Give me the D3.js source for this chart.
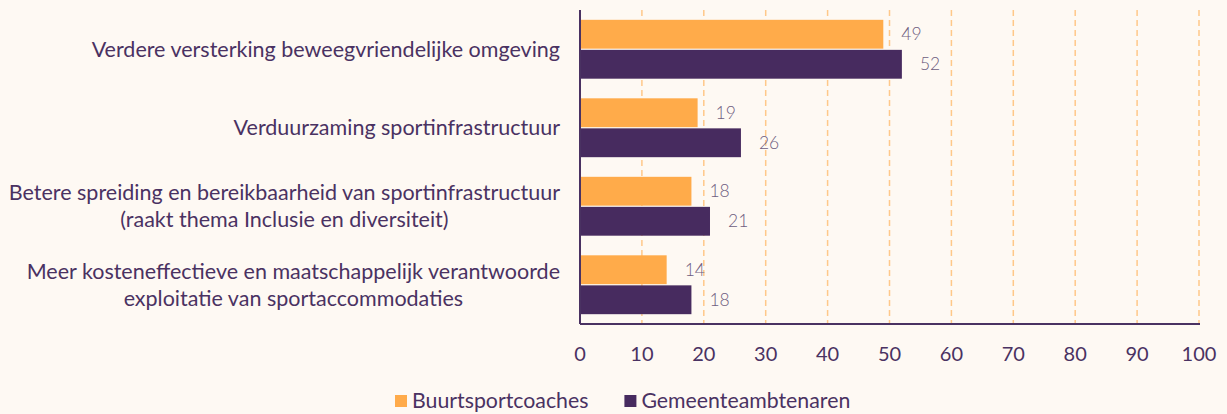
<!DOCTYPE html>
<html lang="nl">
<meta charset="UTF-8">
<script src="https://d3js.org/d3.v7.min.js"></script>
<style>
body { margin: 0; background: #fef9f3; }
text { font-family: Lato, "Noto Sans", sans-serif; }
</style>
<body>
<div id="chart"></div>
<script>
// categories (each entry is a list of lines)
var categories = [
  ["Verdere versterking beweegvriendelijke omgeving"],
  ["Verduurzaming sportinfrastructuur"],
  ["Betere spreiding en bereikbaarheid van sportinfrastructuur", "(raakt thema Inclusie en diversiteit)"],
  ["Meer kosteneffectieve en maatschappelijk verantwoorde", "exploitatie van sportaccommodaties"]
];
var seriesNames = ["Buurtsportcoaches", "Gemeenteambtenaren"];
var buurtsportcoaches = [49, 19, 18, 14];
var gemeenteambtenaren = [52, 26, 21, 18];
var ticks = [0, 10, 20, 30, 40, 50, 60, 70, 80, 90, 100];

var colors = ["#ffab4a", "#472b5f"];
var textColor = "#4a3262";

var width = 1227, height = 414;
var margin = {top: 10, right: 27, bottom: 90, left: 580};

var svg = d3.select("#chart").append("svg")
    .attr("width", width)
    .attr("height", height);

var g = svg.append("g")
    .attr("transform", "translate(" + margin.left + "," + margin.top + ")");

var x = d3.scaleLinear().domain([0, 100]).range([0, 619]);
var y = d3.scaleBand().domain(d3.range(categories.length)).range([0, 314])
    .paddingInner(0.25).paddingOuter(0.125);
var ySub = d3.scaleBand().domain([0, 1]).range([0, y.bandwidth()]).paddingInner(0.04);

// dashed gridlines
g.selectAll(".grid")
  .data(ticks.slice(1))
  .enter().append("line")
    .attr("x1", function(d) { return x(d); })
    .attr("x2", function(d) { return x(d); })
    .attr("y1", 0)
    .attr("y2", 314)
    .attr("stroke", "#ffc889")
    .attr("stroke-width", 1.5)
    .attr("stroke-dasharray", "6,4");

// bars + value labels
var data = [buurtsportcoaches, gemeenteambtenaren];
data.forEach(function(vals, s) {
  g.selectAll(".bar" + s)
    .data(vals)
    .enter().append("rect")
      .attr("x", 0)
      .attr("y", function(d, i) { return y(i) + ySub(s); })
      .attr("width", function(d) { return x(d); })
      .attr("height", ySub.bandwidth())
      .attr("fill", colors[s]);

  g.selectAll(".lbl" + s)
    .data(vals)
    .enter().append("text")
      .attr("x", function(d) { return x(d) + 18; })
      .attr("y", function(d, i) { return y(i) + ySub(s) + ySub.bandwidth() / 2; })
      .attr("dy", "0.35em")
      .attr("fill", "#6e5d80")
      .style("font-size", "17.5px")
      .style("font-weight", 300)
      .text(function(d) { return d; });
});

// axes lines
g.append("line").attr("x1", 0).attr("x2", 0).attr("y1", 0).attr("y2", 314)
  .attr("stroke", textColor).attr("stroke-width", 2);
g.append("line").attr("x1", 0).attr("x2", 620).attr("y1", 314).attr("y2", 314)
  .attr("stroke", textColor).attr("stroke-width", 2);

// x tick labels
g.selectAll(".tick")
  .data(ticks)
  .enter().append("text")
    .attr("x", function(d) { return x(d); })
    .attr("y", 344)
    .attr("dy", "0.35em")
    .attr("text-anchor", "middle")
    .attr("fill", textColor)
    .style("font-size", "20px")
    .text(function(d) { return d; });

// category labels: block right-aligned at x=560, lines centred within block
categories.forEach(function(lines, i) {
  var lineH = 27;
  var cy = margin.top + y(i) + y.bandwidth() / 2 - (lines.length - 1) * lineH / 2;
  var t = svg.append("text")
    .attr("fill", textColor)
    .style("font-size", "21.5px")
    .attr("text-anchor", "middle");
  lines.forEach(function(l, j) {
    t.append("tspan").attr("y", cy + j * lineH).attr("dy", "0.35em").text(l);
  });
  var w = d3.max(t.selectAll("tspan").nodes(), function(n) { return n.getComputedTextLength(); });
  t.selectAll("tspan").attr("x", 560 - w / 2);
});

// legend
var legend = svg.append("g");
var lx = 395;
seriesNames.forEach(function(name, s) {
  var item = legend.append("g").attr("transform", "translate(" + lx + ",401)");
  item.append("rect").attr("x", 0).attr("y", -6).attr("width", 12).attr("height", 12).attr("fill", colors[s]);
  var t = item.append("text").attr("x", 17).attr("dy", "0.35em")
    .attr("fill", textColor).style("font-size", "21.3px").text(name);
  lx += 17 + t.node().getComputedTextLength() + 36;
});
</script>
</body>
</html>
